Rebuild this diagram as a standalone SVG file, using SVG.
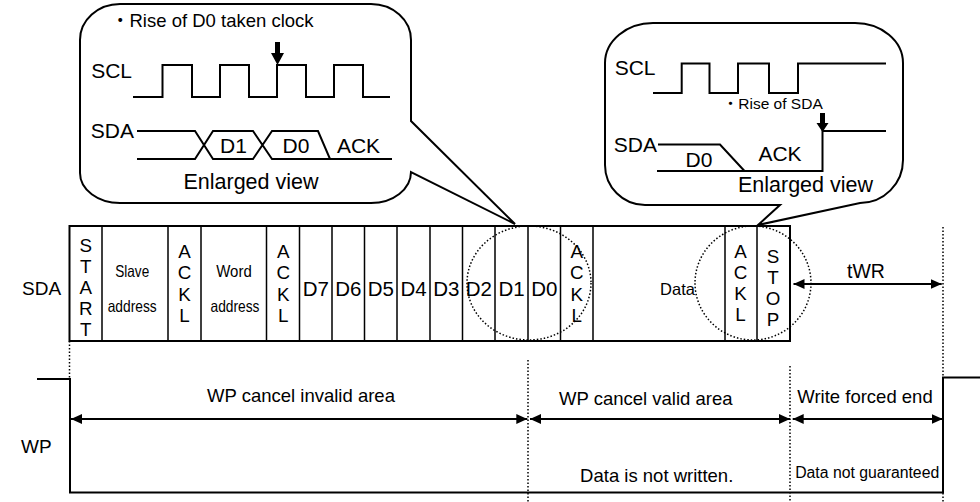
<svg xmlns="http://www.w3.org/2000/svg" width="980" height="502" viewBox="0 0 980 502">
<style>
.t{font-family:"Liberation Sans",Arial,"Noto Sans CJK JP",sans-serif;fill:#000;font-size:18.5px}
.c{text-anchor:middle}
.e{text-anchor:end}
.b{font-size:21px}
.v{font-size:18.8px}
.d{font-size:20.5px}
.sm{font-size:16.5px}
.ln{stroke:#000;stroke-width:2;fill:none}
.thin{stroke:#000;stroke-width:1.5;fill:none}
.dot{stroke:#000;stroke-width:1.5;stroke-dasharray:1.5 2;fill:none}
.ar{stroke:#000;stroke-width:2;fill:none;marker-start:url(#ah);marker-end:url(#ah)}
</style>
<defs>
<marker id="ah" markerUnits="userSpaceOnUse" markerWidth="12" markerHeight="11" refX="11" refY="5" orient="auto-start-reverse">
<path d="M0,0 L11,5 L0,10 Z" fill="#000"/>
</marker>
</defs>
<rect width="980" height="502" fill="#fff"/>

<g id="callout-left">
<path class="ln" fill="#fff" d="M120,4 H371 A40 36 0 0 1 411,40 V121 L515,224 L411,172 A40 31 0 0 1 371,203 H120 A40 30 0 0 1 80,173 V40 A40 36 0 0 1 120,4 Z"/>
<text class="t" x="111" y="27">・Rise of D0 taken clock</text>
<path d="M275,42 H280 V53 H284 L277.5,65 L271,53 H275 Z" fill="#000"/>
<text class="t e b" x="132" y="77.5">SCL</text>
<path class="ln" d="M133,97 H162.5 V65 H192 V97 H220 V65 H249 V97 H277 V65 H306 V97 H334 V65 H363 V97 H390"/>
<text class="t e b" x="134" y="137.5">SDA</text>
<path class="ln" d="M137,131 H195 L213,159 H253 L272,131 H318 L330,159 H392 M137,159 H195 L213,131 H253 L272,159 H330"/>
<text class="t c b" x="233.5" y="152.5">D1</text>
<text class="t c b" x="296" y="152.5">D0</text>
<text class="t c b" x="358.5" y="153">ACK</text>
<text class="t c" x="251" y="188.5" style="font-size:21.5px">Enlarged view</text>
</g>

<g id="callout-right">
<path class="ln" fill="#fff" d="M653,23 H855 A48 40 0 0 1 903,63 V160 A43 43 0 0 1 860,203 L758,225 L780,205 H645 A40 40 0 0 1 605,165 V63 A48 40 0 0 1 653,23 Z"/>
<text class="t e b" x="655.5" y="75">SCL</text>
<path class="ln" d="M653,93 H681.7 V63.5 H709.5 V93 H738 V63.5 H769 V93 H798 V63.5 H886"/>
<text class="t" x="722.8" y="108.5" style="font-size:15.5px">・Rise of SDA</text>
<path d="M820,113 H825 V123 H828.5 L822.5,132 L816.5,123 H820 Z" fill="#000"/>
<text class="t e b" x="657" y="152">SDA</text>
<path class="ln" d="M658,144.5 H720 L744.5,171 M657,171 H822.5 V131 H886"/>
<text class="t c b" x="699" y="167">D0</text>
<text class="t c b" x="780" y="160.5">ACK</text>
<text class="t c" x="805.5" y="191.7" style="font-size:21.5px">Enlarged view</text>
</g>

<g id="sda-frame">
<rect x="69.5" y="226" width="720.5" height="115" class="ln"/>
<path class="thin" d="M102,226V341 M168,226V341 M201,226V341 M266.5,226V341 M299.5,226V341 M332,226V341 M364.5,226V341 M397,226V341 M430,226V341 M462.5,226V341 M495,226V341 M528,226V341 M560.5,226V341 M593,226V341 M725,226V341 M757,226V341"/>
<ellipse class="dot" cx="529" cy="283" rx="62" ry="57"/>
<ellipse class="dot" cx="753" cy="283" rx="58" ry="57"/>
<text class="t" x="22" y="295" style="font-size:19px">SDA</text>
<text class="t c v" x="85.75" y="251.5">S<tspan x="85.75" dy="21">T</tspan><tspan x="85.75" dy="21">A</tspan><tspan x="85.75" dy="21">R</tspan><tspan x="85.75" dy="21">T</tspan></text>
<text class="t c sm" x="132.2" y="277.3" textLength="34" lengthAdjust="spacingAndGlyphs">Slave</text>
<text class="t c sm" x="132.2" y="311.5" textLength="49" lengthAdjust="spacingAndGlyphs">address</text>
<text class="t c v" x="184.5" y="258">A<tspan x="184.5" dy="21.3">C</tspan><tspan x="184.5" dy="21.3">K</tspan><tspan x="184.5" dy="21.3">L</tspan></text>
<text class="t c sm" x="234" y="276.5" textLength="35.5" lengthAdjust="spacingAndGlyphs">Word</text>
<text class="t c sm" x="235" y="311.5" textLength="49" lengthAdjust="spacingAndGlyphs">address</text>
<text class="t c v" x="283.3" y="258">A<tspan x="283.3" dy="21.3">C</tspan><tspan x="283.3" dy="21.3">K</tspan><tspan x="283.3" dy="21.3">L</tspan></text>
<text class="t c d" x="315.75" y="296">D7</text>
<text class="t c d" x="348.25" y="296">D6</text>
<text class="t c d" x="380.75" y="296">D5</text>
<text class="t c d" x="413.5" y="296">D4</text>
<text class="t c d" x="446.25" y="296">D3</text>
<text class="t c d" x="478.75" y="296">D2</text>
<text class="t c d" x="511.5" y="296">D1</text>
<text class="t c d" x="544.25" y="296">D0</text>
<text class="t c v" x="576.7" y="258">A<tspan x="576.7" dy="21.3">C</tspan><tspan x="576.7" dy="21.3">K</tspan><tspan x="576.7" dy="21.3">L</tspan></text>
<text class="t c" x="677.5" y="295" style="font-size:16.5px">Data</text>
<text class="t c v" x="740.5" y="258">A<tspan x="740.5" dy="21.1">C</tspan><tspan x="740.5" dy="21.1">K</tspan><tspan x="740.5" dy="21.1">L</tspan></text>
<text class="t c v" x="773" y="262.5">S<tspan x="773" dy="21.1">T</tspan><tspan x="773" dy="21.1">O</tspan><tspan x="773" dy="21.1">P</tspan></text>
<text class="t c" x="866" y="278" style="font-size:19.5px">tWR</text>
</g>

<g id="wp-signal">
<path class="ln" d="M37,379 H70 V492.5 H943 V377.5 H980"/>
<text class="t" x="21" y="453.3" style="font-size:19px">WP</text>
<text class="t c" x="301" y="402.3">WP cancel invalid area</text>
<text class="t c" x="645.8" y="405">WP cancel valid area</text>
<text class="t c" x="865" y="402.7">Write forced end</text>
<text class="t c" x="656.7" y="481.7">Data is not written.</text>
<text class="t c" x="867.2" y="477.7" style="font-size:15.8px">Data not guaranteed</text>
</g>

<g id="connectors">
<path class="dot" d="M69.5,341 V379 M528,360 V502 M790,366 V502 M943,227 V502"/>
<line class="ar" x1="71" y1="419" x2="527.3" y2="419"/>
<line class="ar" x1="530" y1="419" x2="790" y2="419"/>
<line class="ar" x1="792.7" y1="419" x2="942.7" y2="419"/>
<line class="ar" x1="793.5" y1="284" x2="941.7" y2="284"/>
</g>
</svg>
